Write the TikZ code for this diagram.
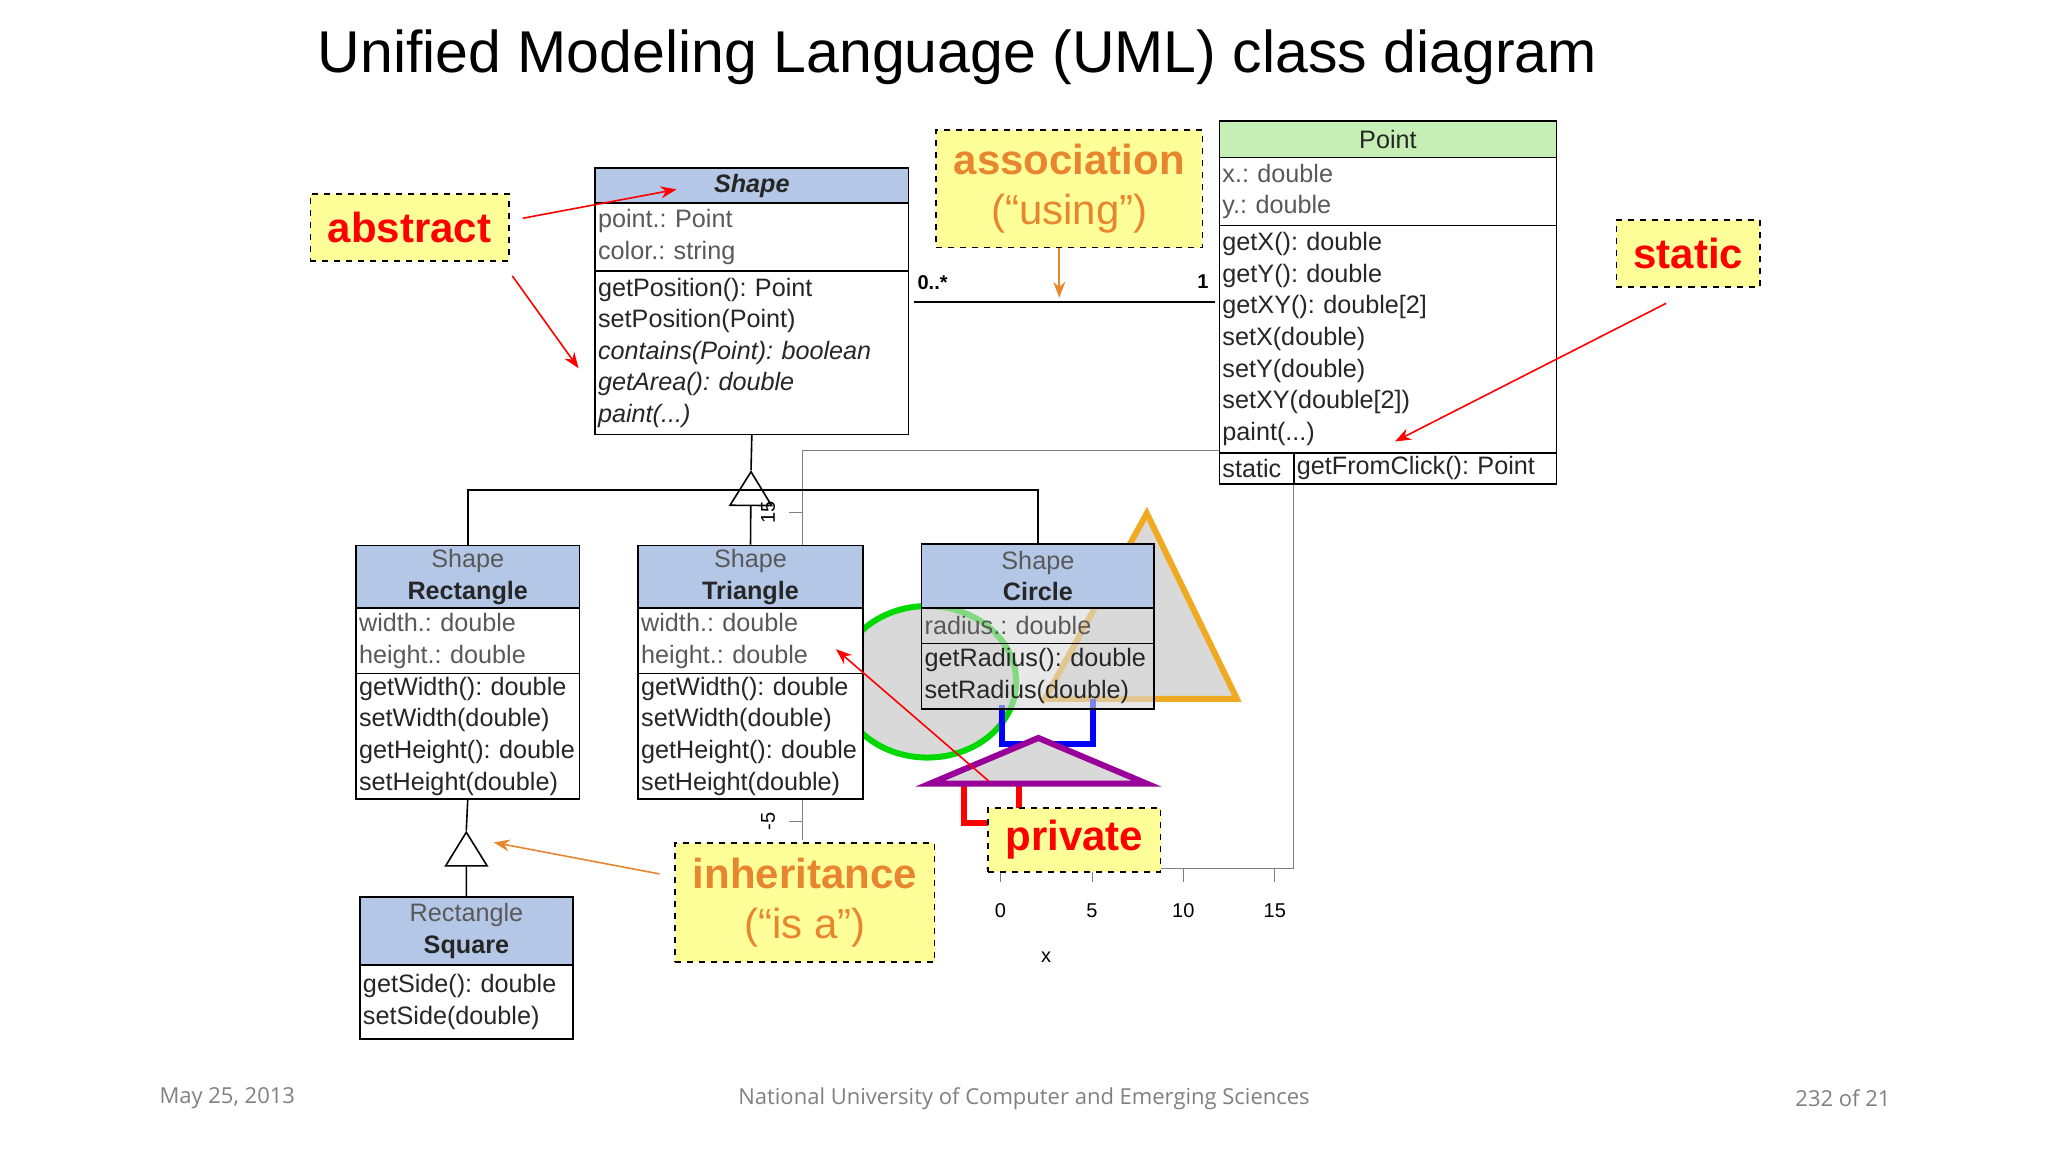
\documentclass[tikz,border=0pt]{standalone}
\usepackage{fontspec}
\setmainfont{Liberation Sans}
\newfontfamily\footfont{Open Sans}
\usetikzlibrary{arrows.meta, positioning}
\definecolor{hdblue}{HTML}{B4C7E7}
\definecolor{hdgreen}{HTML}{C6EFB6}
\definecolor{note}{HTML}{FFFF99}
\definecolor{orng}{HTML}{E8852F}
\definecolor{attr}{HTML}{595959}
\definecolor{txt}{HTML}{262626}
\definecolor{shade}{HTML}{D9D9D9}
\frenchspacing
\hyphenpenalty=10000 \exhyphenpenalty=10000
\tikzset{
  cls/.style n args={2}{draw, thick, anchor=north west, inner xsep=1.5pt, inner ysep=0pt,
    minimum width={#1*0.653pt}, text width={#1*0.653pt-3pt}, minimum height={#2*0.653pt},
    align=left, text=txt, font=\fontsize{12.6}{15.8}\selectfont},
  hd/.style={align=center},
  ats/.style={text=attr},
  callout/.style={draw, thick, dashed, fill=note, inner sep=0pt, anchor=north west},
  rarr/.style={-{Stealth[length=8pt]}, thick, red},
  oarr/.style={-{Stealth[length=8pt]}, thick, orng},
  inh/.style={-{Triangle[open, length=18pt, width=22pt]}, thick},
  axis/.style={gray, thin},
  lab/.style={font=\fontsize{10}{12}\selectfont},
  foot/.style={font=\footfont\fontsize{11}{14}\selectfont, text=gray}
}
\begin{document}
\begin{tikzpicture}[x=0.653pt, y=-0.653pt]
\useasboundingbox (0,0) rectangle (1568,882);
% title and footer
\node[font=\fontsize{29.5}{36}\selectfont] (title) at (733,44) {Unified Modeling Language (UML) class diagram};
\node[foot] (date) at (174,841) {May 25, 2013};
\node[foot] (uni) at (784,841) {National University of Computer and Emerging Sciences};
\node[foot] (page) at (1411,841) {232 of 21};

% plot axes behind everything
\coordinate (p1) at (614,345); \coordinate (p2) at (933,345);
\coordinate (p3) at (614,643); \coordinate (p4) at (990,370);
\coordinate (p5) at (990,665); \coordinate (p6) at (755,665);
\draw[axis] (p2) -- (p1) -- (p3);
\draw[axis] (p4) -- (p5) -- (p6);
\foreach \xv/\lb in {766/0, 836/5, 906/10, 976/15} {
  \draw[axis] (\xv,665) -- (\xv,675);
  \node[lab] at (\xv,697) {\lb};
}
\node[lab] (xlab) at (801,733) {x};
\foreach \yv/\lb in {392/15, 451/10, 510/5, 570/0, 629/-5} {
  \draw[axis] (604,\yv) -- (614,\yv);
  \node[lab, rotate=90] at (588,\yv) {\lb};
}

% shapes drawn in the plot
\draw[green!85!black, line width=3pt, fill=shade] (710,522) ellipse [x radius=68, y radius=58];
\draw[orng!70!yellow, line width=3pt, fill=shade] (878,393) -- (947,535) -- (800,535) -- cycle;
\draw[blue, line width=3pt] (767,540) -- (767,570) -- (837,570) -- (837,535);
\draw[red, line width=3pt] (738,600) -- (738,630) -- (780,630) -- (780,600);
\draw[violet!80!magenta, line width=3pt, fill=shade] (795,565) -- (878,600) -- (712,600) -- cycle;

% class Shape
\node[cls={240}{27}, fill=hdblue, hd] (shape-h) at (455,128) {\textbf{\textit{Shape}}};
\node[cls={240}{52}, fill=white, ats] (shape-a) at (455,155) {point.: Point\\color.: string};
\node[cls={240}{125}, fill=white] (shape-m) at (455,207) {getPosition(): Point\\setPosition(Point)\\\textit{contains(Point): boolean}\\\textit{getArea(): double}\\\textit{paint(...)}};

% class Point
\node[cls={258}{28}, fill=hdgreen, hd] (point-h) at (933,92) {Point};
\node[cls={258}{52}, fill=white, ats] (point-a) at (933,120) {x.: double\\y.: double};
\node[cls={258}{174}, fill=white] (point-m) at (933,172) {getX(): double\\getY(): double\\getXY(): double[2]\\setX(double)\\setY(double)\\setXY(double[2])\\paint(...)};
\node[cls={57}{24}, fill=white] (point-s) at (933,346) {static};
\node[cls={201}{24}, fill=white] (point-c) at (990,346) {getFromClick(): Point};

% class Rectangle
\node[cls={171}{48}, fill=hdblue, hd] (rect-h) at (272,417) {\textcolor{attr}{Shape}\\\textbf{Rectangle}};
\node[cls={171}{50}, fill=white, ats] (rect-a) at (272,465) {width.: double\\height.: double};
\node[cls={171}{96}, fill=white] (rect-m) at (272,515) {getWidth(): double\\setWidth(double)\\getHeight():~double\\setHeight(double)};

% class Triangle
\node[cls={172}{48}, fill=hdblue, hd] (tri-h) at (488,417) {\textcolor{attr}{Shape}\\\textbf{Triangle}};
\node[cls={172}{50}, fill=white, ats] (tri-a) at (488,465) {width.: double\\height.: double};
\node[cls={172}{96}, fill=white] (tri-m) at (488,515) {getWidth(): double\\setWidth(double)\\getHeight():~double\\setHeight(double)};

% class Circle
\node[cls={178}{49}, fill=hdblue, hd] (circ-h) at (705,416) {\textcolor{attr}{Shape}\\\textbf{Circle}};
\node[cls={178}{27}, fill=shade, ats, fill opacity=0.6, text opacity=1] (circ-a) at (705,465) {radius.: double};
\node[cls={178}{50}, fill=shade, fill opacity=0.6, text opacity=1] (circ-m) at (705,492) {getRadius():~double\\setRadius(double)};

% class Square
\node[cls={163}{52}, fill=hdblue, hd] (sq-h) at (275,686) {\textcolor{attr}{Rectangle}\\\textbf{Square}};
\node[cls={163}{57}, fill=white] (sq-m) at (275,738) {getSide(): double\\setSide(double)};

% inheritance
\coordinate (bus) at (575,375);
\coordinate (tip1) at (575,360);
\coordinate (tip2) at (357,636);
\draw[thick] (rect-h.north) |- (circ-h.north |- bus) -- (circ-h.north);
\draw[inh] (tri-h.north) -- (tip1);
\draw[thick] (tip1) -- (shape-m.south);
\draw[inh] (sq-h.north) -- (tip2);
\draw[thick] (tip2) -- (rect-m.south);

% association
\coordinate (as1) at (700,231); \coordinate (as2) at (930,231);
\draw[thick] (as1) -- (as2);
\node[font=\bfseries\fontsize{10}{12}\selectfont] (m1) at (714,216) {0..*};
\node[font=\bfseries\fontsize{10}{12}\selectfont] (m2) at (921,216) {1};

% callouts
\node[callout, minimum width={152*0.653pt}, minimum height={51*0.653pt}, text=red, font=\bfseries\fontsize{21}{24}\selectfont] (abstract) at (237,148) {abstract};
\node[callout, minimum width={204*0.653pt}, minimum height={90*0.653pt}, text=orng, align=center, font=\fontsize{21}{25}\selectfont] (assoc) at (716,99) {\textbf{association}\\(“using”)};
\node[callout, minimum width={110*0.653pt}, minimum height={51*0.653pt}, text=red, font=\bfseries\fontsize{21}{24}\selectfont] (static) at (1237,168) {static};
\node[callout, minimum width={132*0.653pt}, minimum height={49*0.653pt}, text=red, font=\bfseries\fontsize{21}{24}\selectfont] (private) at (756,618) {private};
\node[callout, minimum width={199*0.653pt}, minimum height={91*0.653pt}, text=orng, align=center, font=\fontsize{21}{25}\selectfont] (inherit) at (516,645) {\textbf{inheritance}\\(“is a”)};

% pointer arrows
\coordinate (t1) at (518,145); \coordinate (t2) at (443,282);
\coordinate (t3) at (1068,338); \coordinate (t4) at (640,497);
\coordinate (t5) at (811,228); \coordinate (t6) at (378,645);
\coordinate (s5) at (811,190);
\draw[rarr] (abstract.east) ++(10,-7) -- (t1);
\draw[rarr] (abstract.south east) ++(2,11) -- (t2);
\draw[rarr] (static.south) ++(-17,12) -- (t3);
\draw[rarr] (private.north west) ++(1,-20) -- (t4);
\draw[oarr] (s5) -- (t5);
\draw[oarr] (inherit.west) ++(-11,-22) -- (t6);
\end{tikzpicture}
\end{document}
